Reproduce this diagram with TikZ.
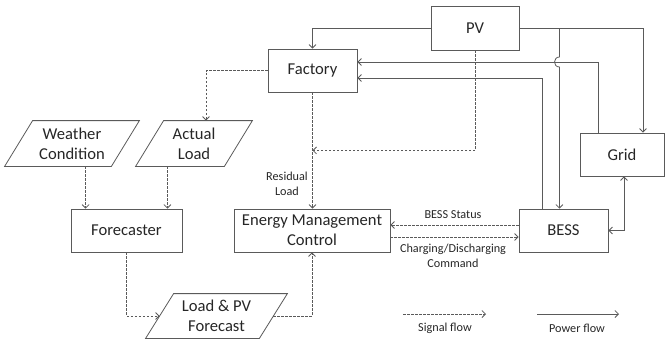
\documentclass[tikz,border=0pt]{standalone}
\usepackage{fontspec}
\setmainfont{Carlito}
\usetikzlibrary{arrows.meta,calc}
\definecolor{ln}{HTML}{5A5A5A}
\definecolor{tx}{HTML}{262626}
\begin{document}
\begin{tikzpicture}[x=1pt,y=-1pt,
  line width=0.8pt,
  box/.style={draw=ln, rectangle, inner sep=0pt, text=tx, font=\fontsize{16.6}{20}\selectfont, align=center},
  ptext/.style={rectangle, inner sep=0pt, text=tx, font=\fontsize{16.6}{20}\selectfont, align=center},
  pshape/.style={draw=ln},
  lbl/.style={text=tx, font=\fontsize{12.2}{15}\selectfont, align=center, inner sep=0pt},
  tip/.tip={Straight Barb[length=3.5pt,width=7pt]},
  pw/.style={draw=ln, -tip},
  pwboth/.style={draw=ln, tip-tip},
  sig/.style={draw=ln, dash pattern=on 2.5pt off 1.5pt, -tip},
]
\useasboundingbox (0,0) rectangle (665,338);

% boxes
\node[box, minimum width=88pt, minimum height=44pt] (pv) at (475,28) {PV};
\node[box, minimum width=89pt, minimum height=43pt] (fac) at (312.5,70.5) {Factory};
\node[box, minimum width=84pt, minimum height=43pt] (grid) at (622,154.5) {Grid};
\node[box, minimum width=89pt, minimum height=43pt] (bess) at (563.5,230.5) {BESS};
\node[box, minimum width=156pt, minimum height=43pt] (emc) at (312,230.5) {Energy Management\\Control};
\node[box, minimum width=111pt, minimum height=43pt] (fc) at (126.5,230.5) {Forecaster};

% parallelograms
\node[ptext, minimum width=106pt, minimum height=45pt] (wc) at (72,143.5) {Weather\\Condition};
\node[ptext, minimum width=88pt, minimum height=45pt] (al) at (194,143.5) {Actual\\Load};
\node[ptext, minimum width=113pt, minimum height=44pt] (lpv) at (216.5,316) {Load \& PV\\Forecast};
\foreach \n in {wc,al,lpv}{
  \draw[pshape] ($(\n.north west)+(14,0)$) -- ($(\n.north east)+(14,0)$) -- ($(\n.south east)+(-14,0)$) -- ($(\n.south west)+(-14,0)$) -- cycle;
}

% power flow
\coordinate (pvtap) at ($(pv.east)+(40,0)$);
\coordinate (gf) at ($(fac.east)+(0,-8.5)$);
\draw[pw] (pv.west) -| (fac.north);
\draw[pw] (pv.east) -| ($(grid.north)+(21,0)$);
\draw[pw] (pvtap) -- ($(pvtap |- gf)+(0,-5)$) .. controls ($(pvtap |- gf)+(-6.5,-5)$) and ($(pvtap |- gf)+(-6.5,5)$) .. ($(pvtap |- gf)+(0,5)$) -- (pvtap |- bess.north);
\draw[pw] ($(grid.north)+(-24,0)$) |- (gf);
\draw[pw] ($(bess.north)+(-21.5,0)$) |- ($(fac.east)+(0,7.5)$);
\draw[pwboth] (bess.east) -| ($(grid.south)+(2,0)$);

% signal flow
\coordinate (rj) at ($(fac.south |- pv.south)+(0,100)$);
\coordinate (fcl) at ($(fc.north west)+(15,0)$);
\coordinate (fcr) at ($(fc.north east)+(-15,0)$);
\draw[sig] (fac.west) -| ($(al.north)+(12,0)$);
\draw[sig] (fac.south) -- (fac.south |- emc.north);
\draw[sig] (pv.south) |- (rj);
\draw[sig] (wc.south -| fcl) -- (fcl);
\draw[sig] (al.south -| fcr) -- (fcr);
\draw[sig] (fc.south) |- (lpv.west);
\draw[sig] (lpv.east) -| (emc.south);
\draw[sig] ($(bess.west)+(0,-5.5)$) -- ($(emc.east)+(0,-5.5)$);
\draw[sig] ($(emc.east)+(0,6.5)$) -- ($(bess.west)+(0,6.5)$);

% labels
\node[lbl] (rl) at (287,183.5) {Residual\\Load};
\node[lbl] (bs) at (453,215) {BESS Status};
\node[lbl] (cd) at (453,255.5) {Charging/Discharging\\Command};

% legend
\coordinate (s1) at (403,314);
\coordinate (s2) at (486,314);
\coordinate (p1) at (537,314);
\coordinate (p2) at (619,314);
\draw[sig] (s1) -- (s2);
\draw[pw] (p1) -- (p2);
\node[lbl] (sl) at (445,328) {Signal flow};
\node[lbl] (pl) at (577,328) {Power flow};
\end{tikzpicture}
\end{document}
